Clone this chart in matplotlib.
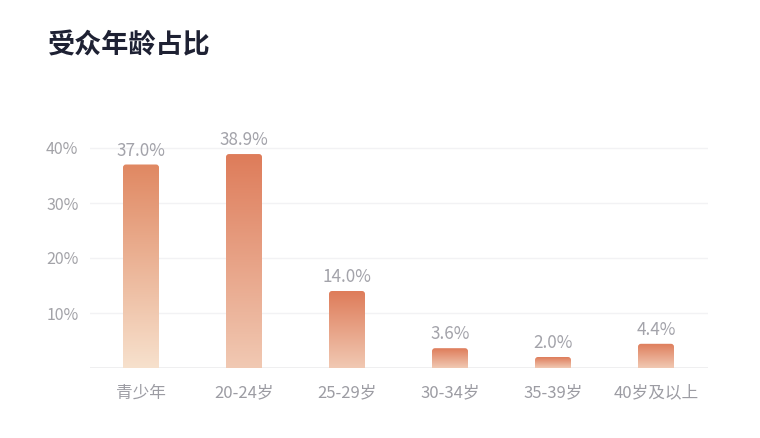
import matplotlib
matplotlib.use("Agg")
import matplotlib.pyplot as plt
import numpy as np
from matplotlib.patches import FancyBboxPatch
from matplotlib.colors import LinearSegmentedColormap

plt.rcParams['font.family'] = ['Noto Sans CJK SC', 'DejaVu Sans']

categories = ['青少年', '20-24岁', '25-29岁', '30-34岁', '35-39岁', '40岁及以上']
values = [37.0, 38.9, 14.0, 3.6, 2.0, 4.4]
value_labels = ['37.0%', '38.9%', '14.0%', '3.6%', '2.0%', '4.4%']
yticks = [10, 20, 30, 40]
ytick_labels = ['10%', '20%', '30%', '40%']
title = '受众年龄占比'

W, H = 760, 438
fig = plt.figure(figsize=(W / 100, H / 100), dpi=100)
fig.patch.set_facecolor('white')
ax = fig.add_axes([89.5 / W, 70 / H, 618 / W, 247.5 / H])
ymax = 45
ax.set_xlim(-0.5, len(categories) - 0.5)
ax.set_ylim(0, ymax)

for s in ax.spines.values():
    s.set_visible(False)
ax.set_yticks(yticks)
ax.set_yticklabels(ytick_labels, color='#A3A3A8', fontsize=11.5)
ax.set_xticks(range(len(categories)))
ax.set_xticklabels(categories, color='#9C9CA3', fontsize=12)
ax.tick_params(axis='both', length=0)
ax.tick_params(axis='y', pad=8)
ax.tick_params(axis='x', pad=12)
ax.grid(axis='y', color='#F2F2F4', linewidth=1)
ax.axhline(0, color='#ECECEE', linewidth=1.2, zorder=1)
ax.set_axisbelow(True)

bar_w = 36 / 103
px_x = (len(categories)) / 618.0   # data x per px
px_y = ymax / 247.5                # data y per px
r = 3.0

for i, v in enumerate(values):
    if i == 0:
        cmap = LinearSegmentedColormap.from_list('g0', ['#F7E1CD', '#E08862'])
    else:
        cmap = LinearSegmentedColormap.from_list('g', ['#F1C9B3', '#DE7C5A'])
    x0 = i - bar_w / 2
    patch = FancyBboxPatch((x0, -2), bar_w, v + 2,
                           boxstyle=f"round,pad=0,rounding_size={r * px_x}",
                           mutation_aspect=px_y / px_x,
                           facecolor='none', edgecolor='none')
    ax.add_patch(patch)
    grad = np.linspace(0, 1, 256).reshape(-1, 1)
    im = ax.imshow(grad, cmap=cmap, origin='lower', aspect='auto',
                   extent=(x0, x0 + bar_w, 0, v), zorder=2, interpolation='bilinear')
    im.set_clip_path(patch)
    ax.annotate(value_labels[i], (i, v), xytext=(0, 3.5), textcoords='offset points',
                ha='center', va='bottom', fontsize=12.3, color='#A3A3AA')

ax.set_xlim(-0.5, len(categories) - 0.5)
ax.set_ylim(0, ymax)

fig.text(48 / W, 1 - 45 / H, title, fontsize=19.5, fontweight='bold',
         color='#1E2133', ha='left', va='center')

fig.savefig('out.png', dpi=100, facecolor='white')
